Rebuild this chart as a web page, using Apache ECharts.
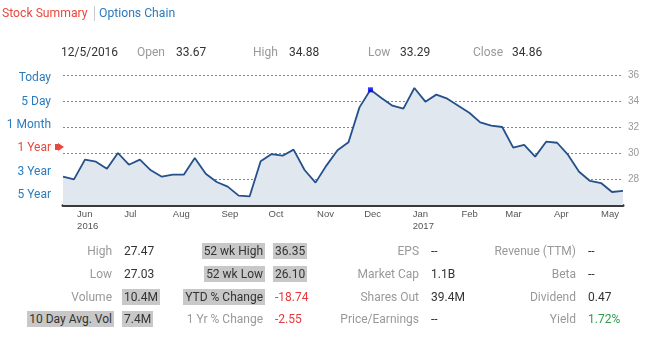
<!DOCTYPE html>
<html>
<head>
<meta charset="utf-8">
<script src="https://cdn.jsdelivr.net/npm/echarts@6/dist/echarts.min.js"></script>
<style>
  html, body { margin:0; padding:0; background:#fff; }
  #wrap { position:relative; width:647px; height:341px; overflow:hidden; font-family: Roboto, "Liberation Sans", sans-serif; }
  #chart { position:absolute; left:0; top:0; width:647px; height:341px; }
  .t { position:absolute; white-space:nowrap; height:16px; line-height:16px; font-size:12px; z-index:2; }
  .hl { background:#c8c8c8; padding:0 2px; }
</style>
</head>
<body>
<div id="wrap"><div id="chart"></div></div>
<script>
// ---- data ----
const dates = ['2016-05-23','2016-05-30','2016-06-06','2016-06-13','2016-06-20','2016-06-27',
  '2016-07-04','2016-07-11','2016-07-18','2016-07-25','2016-08-01','2016-08-08','2016-08-15',
  '2016-08-22','2016-08-29','2016-09-05','2016-09-12','2016-09-19','2016-09-26','2016-10-03',
  '2016-10-10','2016-10-17','2016-10-24','2016-10-31','2016-11-07','2016-11-14','2016-11-21',
  '2016-11-28','2016-12-05','2016-12-12','2016-12-19','2016-12-26','2017-01-02','2017-01-09',
  '2017-01-16','2017-01-23','2017-01-30','2017-02-06','2017-02-13','2017-02-20','2017-02-27',
  '2017-03-06','2017-03-13','2017-03-20','2017-03-27','2017-04-03','2017-04-10','2017-04-17',
  '2017-04-24','2017-05-01','2017-05-08','2017-05-15'];
const closes = [28.18,27.97,29.49,29.33,28.79,30.00,29.10,29.49,28.67,28.18,28.33,28.33,29.62,
  28.41,27.77,27.41,26.72,26.67,29.36,29.92,29.79,30.26,28.69,27.72,29.05,30.21,30.82,
  33.51,34.86,34.23,33.64,33.41,35.00,33.95,34.49,34.18,33.64,33.10,32.36,32.10,32.00,
  30.41,30.62,29.72,30.87,30.79,29.85,28.56,27.85,27.69,27.00,27.08];
const markerIndex = 28; // 12/5/2016
const monthTicks = ['2016-06-01','2016-07-01','2016-08-01','2016-09-01','2016-10-01','2016-11-01',
  '2016-12-01','2017-01-01','2017-02-01','2017-03-01','2017-04-01','2017-05-01'];
const monthLabels = ['Jun\n2016','Jul','Aug','Sep','Oct','Nov','Dec','Jan\n2017','Feb','Mar','Apr','May'];
const yTicks = [26,28,30,32,34,36];

const headerLabels = ['Open','High','Low','Close'];
const headerValues = ['33.67','34.88','33.29','34.86'];
const headerDate = '12/5/2016';
const rangeButtons = ['Today','5 Day','1 Month','1 Year','3 Year','5 Year'];

const col1Labels = ['High','Low','Volume','10 Day Avg. Vol'];
const col1Values = ['27.47','27.03','10.4M','7.4M'];
const col2Labels = ['52 wk High','52 wk Low','YTD % Change','1 Yr % Change'];
const col2Values = ['36.35','26.10','-18.74','-2.55'];
const col3Labels = ['EPS','Market Cap','Shares Out','Price/Earnings'];
const col3Values = ['--','1.1B','39.4M','--'];
const col4Labels = ['Revenue (TTM)','Beta','Dividend','Yield'];
const col4Values = ['--','--','0.47','1.72%'];

// ---- text layout (HTML) ----
const wrap = document.getElementById('wrap');
function put(text, x, y, opt) {
  opt = opt || {};
  const d = document.createElement('div');
  d.className = 't' + (opt.hl ? ' hl' : '');
  d.textContent = text;
  d.style.top = (y - 8) + 'px';
  d.style.color = opt.color || '#333';
  if (opt.size) d.style.fontSize = opt.size + 'px';
  if (opt.right) { d.style.right = (647 - x) + 'px'; d.style.textAlign = 'right'; }
  else d.style.left = x + 'px';
  wrap.appendChild(d);
  return d;
}
put('Stock Summary', 2, 13, {color:'#e8473f', size:12.2});
const sep = document.createElement('div');
sep.style.cssText = 'position:absolute;left:94px;top:6px;width:1px;height:15px;background:#cccccc;';
wrap.appendChild(sep);
put('Options Chain', 99, 13, {color:'#2b7bbf', size:12.2});

put(headerDate, 61, 52, {color:'#333'});
const hLabX = [137, 253, 368, 473];
const hValX = [176, 289, 400, 512];
headerLabels.forEach((l, i) => {
  put(l, hLabX[i], 52, {color:'#999'});
  put(headerValues[i], hValX[i], 52, {color:'#333'});
});

const btnY = [77, 101, 124, 147, 171, 194];
rangeButtons.forEach((b, i) => {
  put(b, 51, btnY[i], {right:true, color: i === 3 ? '#e8473f' : '#2b7bbf', size:12});
});
// red flag marker next to "1 Year"
const flag = document.createElement('div');
flag.style.cssText = 'position:absolute;left:55px;top:144px;width:3px;height:6px;background:#e8483c;z-index:3;';
wrap.appendChild(flag);
const tri = document.createElement('div');
tri.style.cssText = 'position:absolute;left:58px;top:143px;width:0;height:0;border-top:4px solid transparent;border-bottom:4px solid transparent;border-left:6px solid #e8483c;z-index:3;';
wrap.appendChild(tri);

const rowY = [251, 274, 297, 319];
const hl1 = [false, false, false, true];
const hlv1 = [false, false, true, true];
const hl2 = [true, true, true, false];
const hlv2 = [true, true, false, false];
rowY.forEach((y, i) => {
  put(col1Labels[i], hl1[i] ? 114 : 112, y, {right:true, color: hl1[i] ? '#333' : '#999', hl: hl1[i]});
  put(col1Values[i], hlv1[i] ? 122 : 124, y, {color:'#333', hl: hlv1[i]});
  put(col2Labels[i], hl2[i] ? 265 : 263, y, {right:true, color: hl2[i] ? '#333' : '#999', hl: hl2[i]});
  put(col2Values[i], hlv2[i] ? 273 : 275, y, {color: i >= 2 ? '#e8363a' : '#333', hl: hlv2[i]});
  put(col3Labels[i], 419, y, {right:true, color:'#999'});
  put(col3Values[i], 431, y, {color:'#333'});
  put(col4Labels[i], 576, y, {right:true, color:'#999'});
  put(col4Values[i], 588, y, {color: i === 3 ? '#2e9c4a' : '#333'});
});

// ---- chart ----
const DAY = 86400000;
const t0 = Date.parse(dates[0]);
const dayOf = s => Math.round((Date.parse(s) - t0) / DAY);
const xs = dates.map(dayOf);
const tickDays = monthTicks.map(dayOf);

const chart = echarts.init(document.getElementById('chart'), null, {renderer:'canvas'});
const lineData = xs.map((x, i) => [x, closes[i]]);
chart.setOption({
  animation: false,
  grid: { left: 63, right: 24, top: 75, bottom: 136 },
  xAxis: {
    type: 'value',
    min: xs[0],
    max: xs[xs.length - 1],
    axisLine: { show: true, onZero: false, lineStyle: { color: '#3a3a3a', width: 3 } },
    axisTick: { show: false },
    splitLine: { show: false },
    axisLabel: {
      customValues: tickDays,
      formatter: function (v) {
        const i = tickDays.indexOf(Math.round(v));
        return i >= 0 ? monthLabels[i] : '';
      },
      align: 'left',
      color: '#555',
      fontSize: 9.5,
      lineHeight: 12,
      margin: 3,
      fontFamily: '"Liberation Sans", Arial, sans-serif'
    }
  },
  yAxis: {
    type: 'value',
    position: 'right',
    min: yTicks[0],
    max: yTicks[yTicks.length - 1],
    interval: 2,
    axisLine: { show: false },
    axisTick: { show: false },
    axisLabel: { showMinLabel: false, color: '#999', fontSize: 10, margin: 5,
      fontFamily: '"Liberation Sans", Arial, sans-serif' },
    splitLine: { lineStyle: { type: [2, 2], color: '#888', width: 1 } }
  },
  series: [
    {
      type: 'line',
      data: lineData,
      symbol: 'none',
      lineStyle: { color: '#24508b', width: 1.8 },
      areaStyle: { color: '#e1e7ef', opacity: 1 },
      z: 2
    },
    {
      type: 'scatter',
      data: [[xs[markerIndex], closes[markerIndex]]],
      symbol: 'rect',
      symbolSize: 5,
      itemStyle: { color: '#0000ff' },
      z: 5
    }
  ]
});
</script>
</body>
</html>
